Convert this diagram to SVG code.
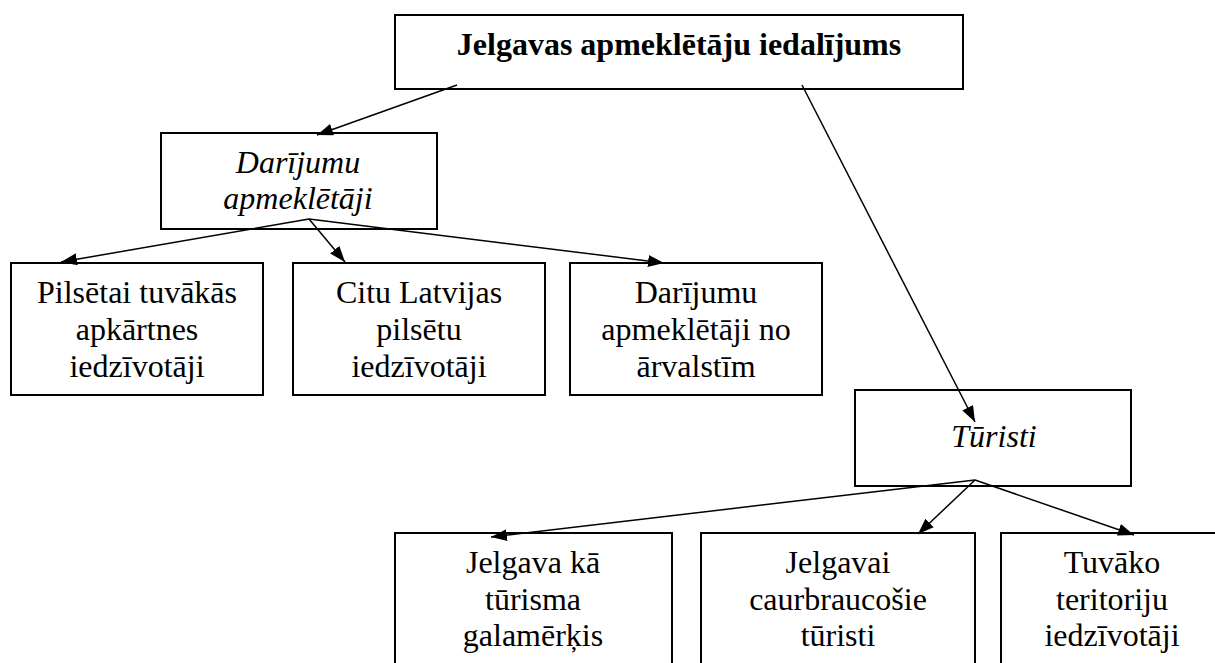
<svg xmlns="http://www.w3.org/2000/svg" width="1215" height="663" viewBox="0 0 1215 663">
<style>
.box{fill:#fff;stroke:#000;stroke-width:2}
.t{font-size:32px;fill:#000;text-anchor:middle}
.b{font-weight:bold}
.i{font-style:italic}
.c{stroke:#000;stroke-width:1.5;fill:none;marker-end:url(#ah)}
</style>
<defs>
<marker id="ah" viewBox="0 0 16 12" refX="16" refY="6" markerWidth="16" markerHeight="12" orient="auto" markerUnits="userSpaceOnUse">
<path d="M0,0 L16,6 L0,12 z" fill="#000"/>
</marker>
</defs>
<rect width="1215" height="663" fill="#fff"/>
<g font-family="'Liberation Serif', 'Times New Roman', 'DejaVu Serif', serif">
<g id="n-root">
<rect class="box" x="395" y="15" width="568" height="74"/>
<text class="t b" x="679" y="55">Jelgavas apmeklētāju iedalījums</text>
</g>
<g id="n-darijumu">
<rect class="box" x="161" y="133" width="276" height="96"/>
<text class="t i" x="298" y="173">Darījumu</text>
<text class="t i" x="298" y="209">apmeklētāji</text>
</g>
<g id="n-pilsetai">
<rect class="box" x="11" y="263" width="252" height="132"/>
<text class="t" x="137" y="303">Pilsētai tuvākās</text>
<text class="t" x="137" y="340">apkārtnes</text>
<text class="t" x="137" y="377">iedzīvotāji</text>
</g>
<g id="n-citu">
<rect class="box" x="293" y="263" width="252" height="132"/>
<text class="t" x="419" y="303">Citu Latvijas</text>
<text class="t" x="419" y="340">pilsētu</text>
<text class="t" x="419" y="377">iedzīvotāji</text>
</g>
<g id="n-arvalstim">
<rect class="box" x="570" y="263" width="252" height="132"/>
<text class="t" x="696" y="303">Darījumu</text>
<text class="t" x="696" y="340">apmeklētāji no</text>
<text class="t" x="696" y="377">ārvalstīm</text>
</g>
<g id="n-turisti">
<rect class="box" x="855" y="390" width="276" height="96"/>
<text class="t i" x="994" y="447">Tūristi</text>
</g>
<g id="n-galamerkis">
<rect class="box" x="395" y="533" width="277" height="150"/>
<text class="t" x="533" y="573">Jelgava kā</text>
<text class="t" x="533" y="610">tūrisma</text>
<text class="t" x="533" y="646">galamērķis</text>
</g>
<g id="n-caurbraucosie">
<rect class="box" x="701" y="533" width="274" height="150"/>
<text class="t" x="838" y="573">Jelgavai</text>
<text class="t" x="838" y="610">caurbraucošie</text>
<text class="t" x="838" y="646">tūristi</text>
</g>
<g id="n-tuvako">
<rect class="box" x="1001" y="533" width="223" height="150"/>
<text class="t" x="1112" y="573">Tuvāko</text>
<text class="t" x="1112" y="610">teritoriju</text>
<text class="t" x="1112" y="646">iedzīvotāji</text>
</g>
</g>
<g id="connectors">
<line class="c" x1="457" y1="85" x2="317" y2="135"/>
<line class="c" x1="802" y1="85" x2="975" y2="422"/>
<line class="c" x1="309" y1="219" x2="61" y2="262"/>
<line class="c" x1="309" y1="219" x2="345" y2="262"/>
<line class="c" x1="309" y1="219" x2="664" y2="263"/>
<line class="c" x1="975" y1="480" x2="491" y2="537"/>
<line class="c" x1="975" y1="480" x2="918" y2="534"/>
<line class="c" x1="975" y1="480" x2="1134" y2="535"/>
</g>
</svg>
